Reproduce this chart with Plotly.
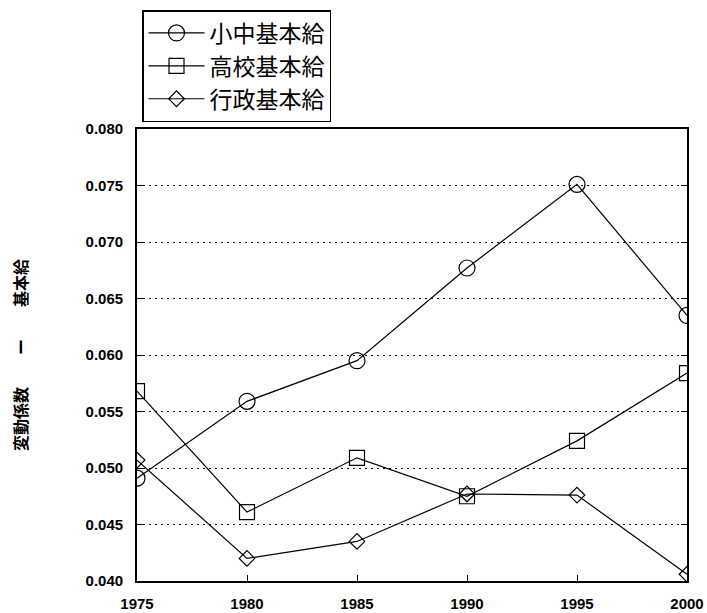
import plotly.graph_objects as go

# 年次と各給与区分の変動係数
years = [1975, 1980, 1985, 1990, 1995, 2000]
shochu = [0.0491, 0.0559, 0.0595, 0.0677, 0.0751, 0.0635]
koko = [0.0568, 0.0461, 0.0509, 0.0475, 0.0524, 0.0584]
gyosei = [0.0507, 0.0420, 0.0435, 0.0477, 0.0476, 0.0406]

series_names = ["小中基本給", "高校基本給", "行政基本給"]
y_ticks = [0.040, 0.045, 0.050, 0.055, 0.060, 0.065, 0.070, 0.075, 0.080]

cjk = "Noto Sans CJK JP"
latin = "Liberation Sans"

fig = go.Figure()
for name, vals, sym, sz in [
    (series_names[0], shochu, "circle-open", 16),
    (series_names[1], koko, "square-open", 15),
    (series_names[2], gyosei, "diamond-open", 12),
]:
    fig.add_trace(go.Scatter(
        x=years, y=vals, name=name, mode="lines+markers",
        line=dict(color="black", width=1.2),
        marker=dict(symbol=sym, size=sz, color="black", line=dict(width=1.2)),
    ))

W, H = 707, 613
L, R, T, B = 137, 20, 129, 32
pw, ph = W - L - R, H - T - B

fig.update_layout(
    width=W, height=H,
    margin=dict(l=L, r=R, t=T, b=B, autoexpand=False),
    paper_bgcolor="white", plot_bgcolor="white",
    showlegend=True,
    legend=dict(
        x=(142 - L) / pw, y=1 + (T - 10) / ph,
        xanchor="left", yanchor="top",
        bordercolor="black", borderwidth=1.5, bgcolor="white",
        font=dict(family=cjk, size=23, color="black"),
        tracegroupgap=0, itemwidth=56,
    ),
    xaxis=dict(
        range=[1975, 2000], tickvals=years, ticktext=[str(v) for v in years],
        showgrid=False, zeroline=False,
        showline=True, linecolor="black", linewidth=1.8, mirror=True,
        ticks="inside", ticklen=6, tickcolor="black",
        ticklabelstandoff=8,
        tickfont=dict(family=latin, size=15, color="black", weight="bold"),
    ),
    yaxis=dict(
        range=[0.040, 0.080], tickvals=y_ticks,
        ticktext=[f"{v:.3f}" for v in y_ticks],
        showgrid=True, gridcolor="black", griddash="2px,4px", gridwidth=1,
        zeroline=False,
        showline=True, linecolor="black", linewidth=1.8, mirror="ticks",
        ticks="inside", ticklen=6, tickcolor="black",
        ticklabelstandoff=9,
        tickfont=dict(family=latin, size=15, color="black", weight="bold"),
        title=dict(text="変動係数　　ー　　基本給", standoff=54,
                   font=dict(family=cjk, size=16, color="black", weight="bold")),
        automargin=False,
    ),
)

fig.write_html("out.html")
